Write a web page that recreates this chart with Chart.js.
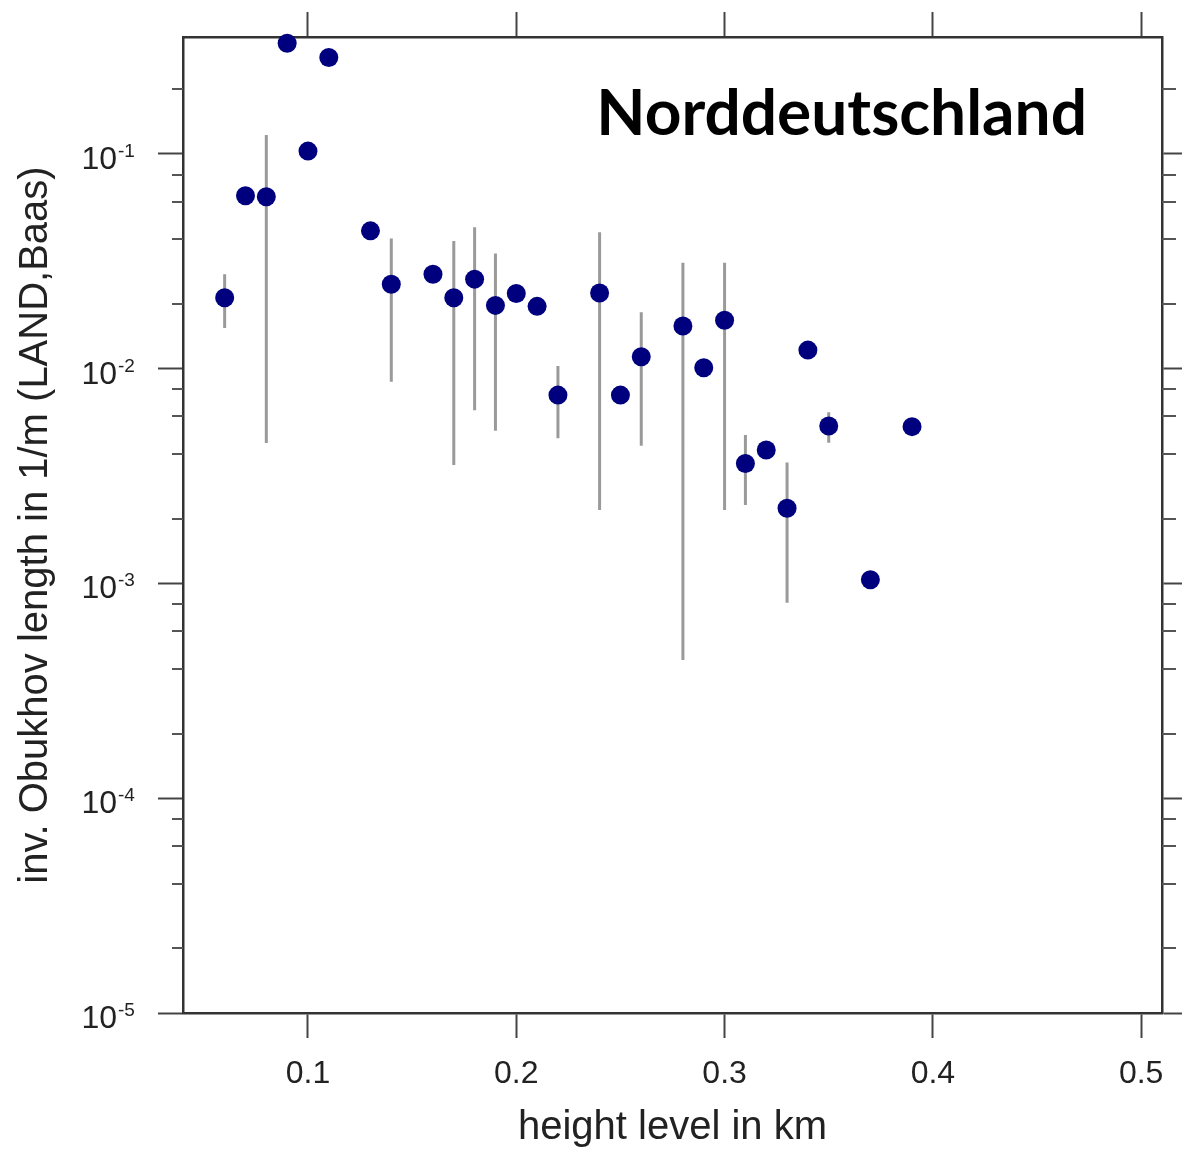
<!DOCTYPE html>
<html lang="de">
<head>
    <meta charset="UTF-8">
    <title>Norddeutschland - inv. Obukhov length</title>
    <script src="https://cdn.jsdelivr.net/npm/chart.js"></script>
    <style>
        body {
            margin: 0;
            background: #fff;
        }

        #wrap {
            width: 1182px;
            height: 1150px;
        }
    </style>
</head>
<body>
    <div id="wrap"><canvas id="obukhovChart" width="1182" height="1150"></canvas></div>

    <script>
        // height level (km) and inv. Obukhov length (1/m)
        const heights = [0.06, 0.07, 0.08, 0.09, 0.10, 0.11, 0.13, 0.14, 0.16, 0.17, 0.18, 0.19, 0.20, 0.21,
                         0.22, 0.24, 0.25, 0.26, 0.28, 0.29, 0.30, 0.31, 0.32, 0.33, 0.34, 0.35, 0.37, 0.39];
        const invObukhov = [0.0214, 0.0638, 0.0631, 0.327, 0.103, 0.281, 0.0438, 0.0247, 0.0275, 0.0214, 0.0261, 0.0197, 0.0224, 0.0195,
                            0.00753, 0.0225, 0.00753, 0.01135, 0.0158, 0.0101, 0.0168, 0.00362, 0.00418, 0.00224, 0.0122, 0.00541, 0.00104, 0.00537];

        // error bars (only where drawn)
        const errHeights = [0.06, 0.08, 0.14, 0.17, 0.18, 0.19, 0.22, 0.24, 0.26, 0.28, 0.30, 0.31, 0.33, 0.35];
        const errLow = [0.01545, 0.00451, 0.00869, 0.00356, 0.00641, 0.00514, 0.00474, 0.00220, 0.00437, 0.00044, 0.00220, 0.00232, 0.000813, 0.00452];
        const errHigh = [0.0275, 0.1224, 0.0404, 0.0393, 0.0455, 0.0344, 0.0103, 0.0431, 0.0183, 0.0311, 0.0311, 0.00491, 0.00366, 0.00627];

        const xTickValues = [0.1, 0.2, 0.3, 0.4, 0.5];
        const yMajorTicks = [1e-5, 1e-4, 1e-3, 1e-2, 1e-1];
        const yMajorExponents = ['-5', '-4', '-3', '-2', '-1'];
        const yMinorTicks = [2e-5, 4e-5, 6e-5, 8e-5, 2e-4, 4e-4, 6e-4, 8e-4, 2e-3, 4e-3, 6e-3, 8e-3,
                             2e-2, 4e-2, 6e-2, 8e-2, 2e-1];

        const xMin = 0.04, xMax = 0.51;
        const yMin = 1e-5, yMax = 0.35;

        const FONT = '"Liberation Sans", Arial, Helvetica, sans-serif';

        const pointData = heights.map((h, i) => ({ x: h, y: invObukhov[i] }));
        const errData = [];
        errHeights.forEach((h, i) => {
            errData.push({ x: h, y: errLow[i] });
            errData.push({ x: h, y: errHigh[i] });
            errData.push({ x: h, y: null });
        });

        const gridOpts = {
            drawOnChartArea: false,
            drawTicks: true,
            tickLength: 25,
            tickColor: '#444',
            tickWidth: 2
        };
        const borderOpts = { display: true, color: '#333', width: 2.5 };

        // minor log ticks, 10^n labels and the region name
        const axisDecor = {
            id: 'axisDecor',
            afterDraw(chart) {
                const ctx = chart.ctx;
                const area = chart.chartArea;
                const yScale = chart.scales.y;
                ctx.save();

                ctx.strokeStyle = '#555';
                ctx.lineWidth = 2;
                yMinorTicks.forEach(v => {
                    const py = Math.round(yScale.getPixelForValue(v));
                    ctx.beginPath();
                    ctx.moveTo(area.left - 11, py);
                    ctx.lineTo(area.left, py);
                    ctx.moveTo(area.right, py);
                    ctx.lineTo(area.right + 14, py);
                    ctx.stroke();
                });

                ctx.fillStyle = '#222';
                ctx.textBaseline = 'alphabetic';
                yMajorTicks.forEach((v, i) => {
                    const py = yScale.getPixelForValue(v);
                    const xr = area.left - 66;
                    ctx.font = '32px ' + FONT;
                    ctx.textAlign = 'right';
                    ctx.fillText('10', xr, py + 15);
                    ctx.font = '19px ' + FONT;
                    ctx.textAlign = 'left';
                    ctx.fillText(yMajorExponents[i], xr + 1, py + 3);
                });

                ctx.font = 'bold 64px Lato, "Noto Sans", sans-serif';
                ctx.fillStyle = '#000';
                ctx.textAlign = 'right';
                ctx.fillText('Norddeutschland', area.right - 75, area.top + 98);

                ctx.restore();
            }
        };

        const setXTicks = scale => { scale.ticks = xTickValues.map(v => ({ value: v })); };
        const setYTicks = scale => { scale.ticks = yMajorTicks.map(v => ({ value: v })); };

        new Chart(document.getElementById('obukhovChart'), {
            type: 'scatter',
            data: {
                datasets: [
                    {
                        label: 'inv. Obukhov length',
                        data: pointData,
                        showLine: false,
                        pointRadius: 9.5,
                        pointHoverRadius: 9.5,
                        pointBackgroundColor: '#00007f',
                        pointBorderColor: '#00007f',
                        pointBorderWidth: 0,
                        clip: false,
                        order: 0
                    },
                    {
                        label: 'range',
                        data: errData,
                        showLine: true,
                        spanGaps: false,
                        pointRadius: 0,
                        borderColor: '#9a9a9a',
                        borderWidth: 3,
                        order: 1
                    }
                ]
            },
            options: {
                responsive: false,
                animation: false,
                devicePixelRatio: 1,
                layout: { padding: 0 },
                plugins: {
                    legend: { display: false },
                    tooltip: { enabled: false }
                },
                scales: {
                    x: {
                        type: 'linear',
                        position: 'bottom',
                        min: xMin,
                        max: xMax,
                        afterBuildTicks: setXTicks,
                        afterFit: s => { s.height = 137; },
                        ticks: {
                            font: { family: FONT, size: 32 },
                            color: '#222',
                            padding: 17,
                            maxRotation: 0,
                            autoSkip: false,
                            callback: v => v.toFixed(1)
                        },
                        grid: gridOpts,
                        border: borderOpts,
                        title: {
                            display: true,
                            text: 'height level in km',
                            font: { family: FONT, size: 40, lineHeight: 1 },
                            color: '#222',
                            padding: { top: 0, bottom: 2 }
                        }
                    },
                    x2: {
                        type: 'linear',
                        position: 'top',
                        min: xMin,
                        max: xMax,
                        afterBuildTicks: setXTicks,
                        afterFit: s => { s.height = 37; },
                        ticks: { display: false },
                        grid: gridOpts,
                        border: borderOpts
                    },
                    y: {
                        type: 'logarithmic',
                        position: 'left',
                        min: yMin,
                        max: yMax,
                        afterBuildTicks: setYTicks,
                        afterFit: s => { s.width = 183; },
                        ticks: { display: false },
                        grid: gridOpts,
                        border: borderOpts,
                        title: {
                            display: true,
                            text: 'inv. Obukhov length in 1/m (LAND,Baas)',
                            font: { family: FONT, size: 40, lineHeight: 1 },
                            color: '#222',
                            padding: { top: 16, bottom: 0 }
                        }
                    },
                    y2: {
                        type: 'logarithmic',
                        position: 'right',
                        min: yMin,
                        max: yMax,
                        afterBuildTicks: setYTicks,
                        afterFit: s => { s.width = 20; },
                        ticks: { display: false },
                        grid: Object.assign({}, gridOpts, { tickLength: 21 }),
                        border: borderOpts
                    }
                }
            },
            plugins: [axisDecor]
        });
    </script>
</body>
</html>
